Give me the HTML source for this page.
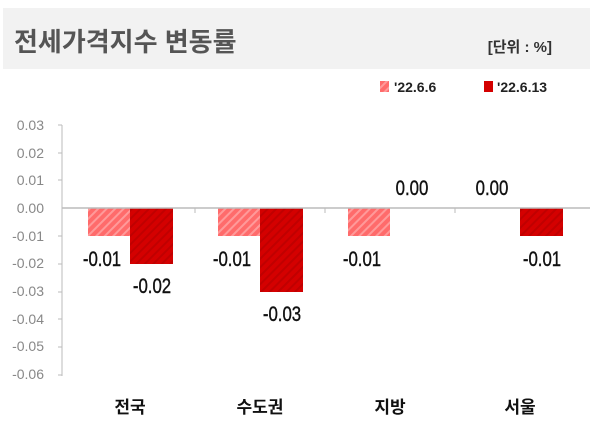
<!DOCTYPE html>
<html><head><meta charset="utf-8"><style>
body{margin:0;background:#fff;width:600px;height:430px;overflow:hidden;font-family:"Liberation Sans","Noto Sans CJK KR",sans-serif}
</style></head><body>
<svg width="600" height="430" xmlns="http://www.w3.org/2000/svg" font-family="Liberation Sans, Noto Sans CJK KR, sans-serif">
<defs>
<pattern id="h1" width="6" height="6" patternUnits="userSpaceOnUse" patternTransform="rotate(45)">
<rect width="6" height="6" fill="#ff6b6b"/><rect width="2" height="6" fill="#ff9a9a"/></pattern>
<pattern id="h2" width="6" height="6" patternUnits="userSpaceOnUse" patternTransform="rotate(45)">
<rect width="6" height="6" fill="#d40000"/><rect width="2" height="6" fill="#c00000"/></pattern>
</defs>
<rect x="3" y="8" width="587" height="61" fill="#f2f2f2"/>
<text x="14" y="51" font-size="26" font-weight="bold" fill="#555">전세가격지수 변동률</text>
<text x="552" y="52" font-size="15" font-weight="bold" fill="#333" text-anchor="end">[단위 : %]</text>
<rect x="380" y="81" width="9" height="11" fill="url(#h1)"/>
<text x="394" y="92" font-size="14" font-weight="bold" fill="#222">'22.6.6</text>
<rect x="484" y="81" width="9" height="11" fill="#d40000"/>
<text x="497" y="92" font-size="14" font-weight="bold" fill="#222">'22.6.13</text>
<g font-size="14" fill="#888" text-anchor="end">
<text x="44" y="130">0.03</text><text x="44" y="158">0.02</text><text x="44" y="185">0.01</text>
<text x="44" y="213">0.00</text><text x="44" y="241">-0.01</text><text x="44" y="268">-0.02</text>
<text x="44" y="296">-0.03</text><text x="44" y="324">-0.04</text><text x="44" y="351">-0.05</text><text x="44" y="379">-0.06</text>
</g>
<g stroke="#bbb" stroke-width="1">
<line x1="62" y1="125" x2="62" y2="376"/>
<line x1="58" y1="125" x2="62" y2="125"/><line x1="58" y1="153" x2="62" y2="153"/><line x1="58" y1="180" x2="62" y2="180"/>
<line x1="58" y1="236" x2="62" y2="236"/><line x1="58" y1="264" x2="62" y2="264"/><line x1="58" y1="292" x2="62" y2="292"/>
<line x1="58" y1="319" x2="62" y2="319"/><line x1="58" y1="347" x2="62" y2="347"/><line x1="58" y1="375" x2="62" y2="375"/>
<line x1="195" y1="208" x2="195" y2="213"/><line x1="325" y1="208" x2="325" y2="213"/><line x1="455" y1="208" x2="455" y2="213"/>
</g>
<rect x="88" y="208" width="42" height="28" fill="url(#h1)"/>
<rect x="130" y="208" width="43" height="56" fill="url(#h2)"/>
<rect x="218" y="208" width="42" height="28" fill="url(#h1)"/>
<rect x="260" y="208" width="43" height="84" fill="url(#h2)"/>
<rect x="348" y="208" width="42" height="28" fill="url(#h1)"/>
<rect x="520" y="208" width="43" height="28" fill="url(#h2)"/>
<line x1="62" y1="208" x2="590" y2="208" stroke="#bbb" stroke-width="1.5"/>
<g font-size="21" fill="#111" text-anchor="middle" stroke="#111" stroke-width="0.4">
<text transform="translate(102,266) scale(0.8,1)">-0.01</text>
<text transform="translate(152,293) scale(0.8,1)">-0.02</text>
<text transform="translate(232,266) scale(0.8,1)">-0.01</text>
<text transform="translate(282,321) scale(0.8,1)">-0.03</text>
<text transform="translate(362,266) scale(0.8,1)">-0.01</text>
<text transform="translate(412,195) scale(0.8,1)">0.00</text>
<text transform="translate(492,195) scale(0.8,1)">0.00</text>
<text transform="translate(542,266) scale(0.8,1)">-0.01</text>
</g>
<g font-size="17" font-weight="bold" fill="#111" text-anchor="middle">
<text x="130" y="413">전국</text><text x="260" y="413">수도권</text><text x="390" y="413">지방</text><text x="520" y="413">서울</text>
</g>
</svg>
</body></html>
